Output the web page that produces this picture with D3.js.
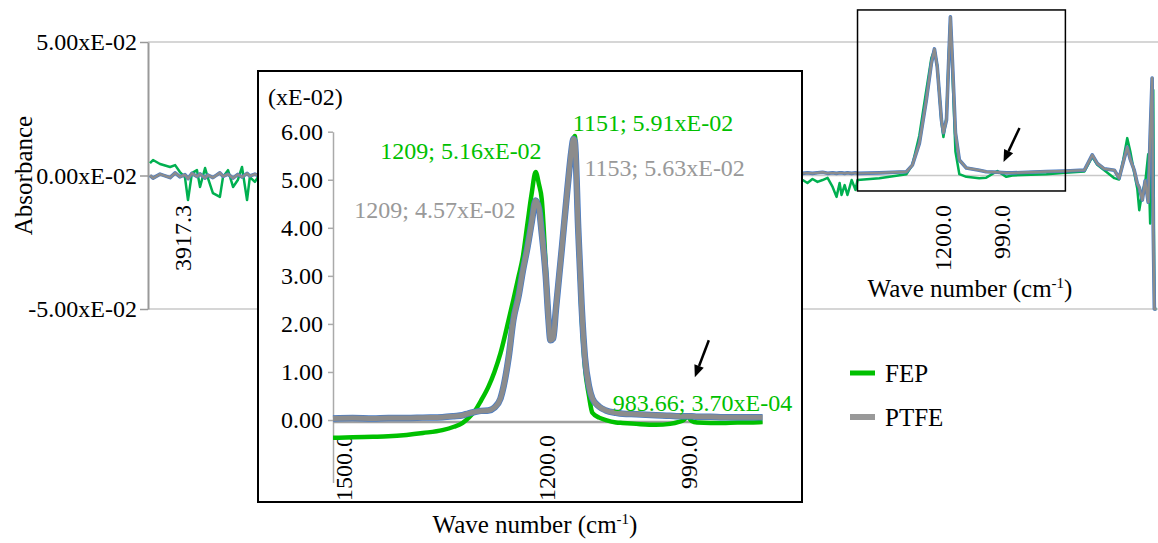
<!DOCTYPE html>
<html>
<head>
<meta charset="utf-8">
<script src="https://cdn.jsdelivr.net/npm/d3@7"></script>
<style>
  body { margin: 0; background: #fff; }
  svg { display: block; font-family: "Liberation Serif", serif; }
</style>
</head>
<body>
<div id="chart"></div>
<script>
// ---- data (absorbance in units of 1E-02) ----

// full spectrum shown behind the inset
const mainWave = [4013, 4002, 3977, 3941, 3923, 3906, 3888, 3877, 3863, 3845, 3834, 3816, 3806, 3788, 3763, 3752,
    3734, 3716, 3699, 3684, 3666, 3656, 3638, 3627,
    2600,
    1680, 1663, 1645, 1627, 1609, 1591, 1573, 1559, 1548, 1541, 1530, 1520, 1505, 1491, 1484,
    1406, 1309, 1288, 1263, 1238, 1220, 1209, 1199, 1184, 1177, 1166, 1159, 1152, 1145, 1134, 1120,
    1095, 1049, 1024, 984, 952, 931, 809, 741,
    673, 645, 627, 602, 566, 549, 534, 520, 509, 495, 484, 477, 466, 456, 445, 438, 431, 427, 423, 416];
const mainFEP = [0.46, 0.58, 0.43, 0.32, 0.39, 0.13, -0.06, -0.92, 0.09, 0.2, -0.43, 0.28, -0.09, -0.66, -0.8, -0.06,
    0.2, -0.43, -0.17, 0.32, -0.92, -0.06, -0.24, -0.06,
    0,
    -0.17, -0.28, -0.13, -0.24, -0.17, -0.09, -0.43, -0.8, -0.28, -0.73, -0.36, -0.73, -0.17, -0.54, -0.17,
    -0.1, 0.05, 0.4, 1.5, 3.2, 4.4, 4.7, 4.1, 2.0, 1.44, 2.2, 4.2, 5.85, 3.9, 0.9, 0.05,
    -0.05, -0.1, -0.08, 0.17, -0.05, 0.0, 0.05, 0.1,
    0.15, 0.7, 0.4, 0.2, -0.1, -0.15, 0.6, 1.4, 0.9, 0.1, -0.5, -1.3, -0.6, -0.3, 0.8, -1.8, 1.0, 3.2, -5.0, -5.0];
const mainPTFE = [0.0, -0.1, 0.05, -0.08, 0.1, -0.05, 0.03, -0.12, 0.08, -0.04, 0.06, -0.1, 0.02, -0.08, 0.1, -0.03,
    0.05, -0.1, 0.04, -0.06, 0.08, -0.02, 0.05, 0.0,
    0.05,
    0.08, 0.1, 0.08, 0.1, 0.12, 0.08, 0.1, 0.08, 0.1, 0.1, 0.08, 0.1, 0.08, 0.1, 0.08,
    0.1, 0.14, 0.39, 1.2, 2.83, 4.2, 4.74, 4.06, 2.08, 1.6, 2.08, 4.06, 5.94, 4.33, 1.6, 0.58,
    0.28, 0.2, 0.14, 0.12, 0.1, 0.1, 0.15, 0.17,
    0.2, 0.77, 0.45, 0.25, 0.2, -0.1, 0.5, 1.06, 0.6, 0.2, -0.3, -0.45, -0.92, -0.2, -1.0, 1.5, 3.65, -2.0, -5.0, -5.0];

// zoomed region 1500 - 870 cm-1
const insetWave = [1509, 1480, 1450, 1427, 1400, 1376, 1347, 1330, 1317, 1308, 1298, 1290, 1279, 1270, 1261, 1249,
    1242, 1234, 1228, 1221, 1215, 1209, 1204, 1200, 1194, 1190, 1187, 1183, 1179, 1170, 1162, 1156,
    1153, 1151, 1146, 1141, 1136, 1130, 1125, 1115, 1105, 1090, 1080, 1060, 1031, 1010, 997, 990,
    984, 978, 970, 950, 932, 910, 890, 873];
const insetFEP = [-0.37, -0.36, -0.35, -0.34, -0.31, -0.27, -0.21, -0.14, -0.06, 0.05, 0.21, 0.4, 0.69, 1.0, 1.39, 2.08,
    2.5, 3.0, 3.39, 4.1, 4.7, 5.16, 4.9, 4.6, 3.2, 2.2, 1.75, 1.75, 2.3, 3.6, 4.8, 5.6,
    5.85, 5.91, 3.9, 2.2, 1.1, 0.5, 0.15, 0.05, 0.0, -0.05, -0.06, -0.08, -0.1, -0.08, -0.04, 0.0,
    0.07, -0.02, -0.05, -0.06, -0.06, -0.05, -0.05, -0.04];
const insetPTFE = [0.03, 0.04, 0.03, 0.04, 0.04, 0.05, 0.06, 0.08, 0.1, 0.14, 0.17, 0.19, 0.2, 0.26, 0.45, 1.3,
    2.08, 2.6, 3.1, 3.6, 4.1, 4.57, 4.4, 3.9, 3.0, 2.1, 1.66, 1.7, 2.3, 3.6, 4.8, 5.6,
    5.85, 5.8, 4.0, 2.4, 1.3, 0.7, 0.45, 0.28, 0.2, 0.15, 0.13, 0.12, 0.1, 0.09, 0.08, 0.08,
    0.08, 0.08, 0.07, 0.07, 0.06, 0.06, 0.06, 0.06];

// axis ticks
const mainYTicks = [5, 0, -5];
const mainYLabels = ["5.00xE-02", "0.00xE-02", "-5.00xE-02"];
const mainXTicks = [3917.3, 1200.0, 990.0];
const insetYTicks = [0, 1, 2, 3, 4, 5, 6];
const insetXTicks = [1500.0, 1200.0, 990.0];

// zoom frame on the full spectrum (wave number, absorbance)
const zoomWave = [1484, 741];
const zoomAbs = [6.2, -0.58];

// peak labels
const noteText = ["1209; 5.16xE-02", "1209; 4.57xE-02", "1151; 5.91xE-02", "1153; 5.63xE-02", "983.66; 3.70xE-04"];
const noteWave = [1209, 1209, 1151, 1153, 983.66];
const noteAbs = [5.16, 4.57, 5.91, 5.63, 0.037];
const noteSeries = ["FEP", "PTFE", "FEP", "PTFE", "FEP"];

const seriesNames = ["FEP", "PTFE"];

// ---- layout ----
const W = 1158, H = 543;
const green = "#00c000", greenMain = "#00b050", gray = "#8c8c8c", blue = "#4a7cc4";
const noteOffset = [[6, -13, "end"], [-20, 18, "end"], [-2, -5, "start"], [11, 27, "start"], [-75, -7, "start"]];

const svg = d3.select("#chart").append("svg")
    .attr("width", W)
    .attr("height", H);

// main chart scales
const x = d3.scaleLinear().domain([4020, 410]).range([148, 1158]);
const y = d3.scaleLinear().domain([-5, 5]).range([309, 42]);

// gridlines
svg.append("g")
    .selectAll("line")
    .data(mainYTicks)
    .join("line")
        .attr("x1", 148)
        .attr("x2", W)
        .attr("y1", d => y(d))
        .attr("y2", d => y(d))
        .attr("stroke", "#c8c8c8")
        .attr("stroke-width", 1.5);

// y axis
const yAxis = svg.append("g")
    .attr("transform", `translate(148, 0)`)
    .call(d3.axisLeft(y)
        .tickValues(mainYTicks)
        .tickSize(8)
        .tickSizeOuter(0)
        .tickPadding(3)
        .tickFormat((d, i) => mainYLabels[i]));
yAxis.select(".domain").attr("stroke", "#999").attr("stroke-width", 2);
yAxis.selectAll(".tick line").attr("stroke", "#999").attr("stroke-width", 1.5);
yAxis.selectAll(".tick text")
    .attr("fill", "#000")
    .attr("font-size", 24)
    .attr("font-family", "Liberation Serif");

svg.append("text")
    .attr("transform", `translate(32, ${y(0)}) rotate(-90)`)
    .attr("text-anchor", "middle")
    .attr("font-size", 25)
    .text("Absorbance");

// x tick labels, rotated
svg.append("g")
    .selectAll("text")
    .data(mainXTicks)
    .join("text")
        .attr("transform", d => `translate(${x(d) + 6}, 205) rotate(-90)`)
        .attr("text-anchor", "end")
        .attr("dy", "0.35em")
        .attr("font-size", 24)
        .text(d => d.toFixed(1));

function axisTitle(cx, by) {
    const t = svg.append("text")
        .attr("x", cx)
        .attr("y", by)
        .attr("text-anchor", "middle")
        .attr("font-size", 25);
    t.append("tspan").text("Wave number (cm");
    t.append("tspan").attr("dy", -9).attr("font-size", 15).text("-1");
    t.append("tspan").attr("dy", 9).text(")");
}
axisTitle(970, 297);

// main spectra
const mainLine = (vals) => d3.line()
    .x((d, i) => x(mainWave[i]))
    .y(d => y(d))(vals);

svg.append("path")
    .attr("d", mainLine(mainFEP))
    .attr("fill", "none")
    .attr("stroke", greenMain)
    .attr("stroke-width", 2.5)
    .attr("stroke-linejoin", "round");
svg.append("path")
    .attr("d", mainLine(mainPTFE))
    .attr("fill", "none")
    .attr("stroke", blue)
    .attr("stroke-width", 3.6)
    .attr("stroke-linejoin", "round");
svg.append("path")
    .attr("d", mainLine(mainPTFE))
    .attr("fill", "none")
    .attr("stroke", gray)
    .attr("stroke-width", 2.4)
    .attr("stroke-linejoin", "round");

// zoom frame
svg.append("rect")
    .attr("x", x(zoomWave[0]))
    .attr("y", y(zoomAbs[0]))
    .attr("width", x(zoomWave[1]) - x(zoomWave[0]))
    .attr("height", y(zoomAbs[1]) - y(zoomAbs[0]))
    .attr("fill", "none")
    .attr("stroke", "#000")
    .attr("stroke-width", 1.5);

// arrows
function arrow(x1, y1, x2, y2) {
    const ang = Math.atan2(y2 - y1, x2 - x1);
    const len = 12, half = 5;
    const bx = x2 - len * Math.cos(ang), by = y2 - len * Math.sin(ang);
    svg.append("line")
        .attr("x1", x1).attr("y1", y1)
        .attr("x2", bx).attr("y2", by)
        .attr("stroke", "#000")
        .attr("stroke-width", 2.5);
    svg.append("path")
        .attr("d", `M${x2},${y2}L${bx - half * Math.sin(ang)},${by + half * Math.cos(ang)}L${bx + half * Math.sin(ang)},${by - half * Math.cos(ang)}Z`)
        .attr("fill", "#000");
}
arrow(x(983.66) + 22, y(0.17) - 43, x(983.66) + 6, y(0.17) - 9);

// ---- inset ----
svg.append("rect")
    .attr("x", 258)
    .attr("y", 71)
    .attr("width", 544)
    .attr("height", 431)
    .attr("fill", "#fff")
    .attr("stroke", "#000")
    .attr("stroke-width", 2);

const ix = d3.scaleLinear().domain([1509, 862]).range([333, 770]);
const iy = d3.scaleLinear().domain([-1.3, 6]).range([482.5, 131.7]);

const iyAxis = svg.append("g")
    .attr("transform", `translate(333, 0)`)
    .call(d3.axisLeft(iy)
        .tickValues(insetYTicks)
        .tickSize(5)
        .tickSizeOuter(0)
        .tickPadding(5)
        .tickFormat(d => d.toFixed(2)));
iyAxis.select(".domain").attr("stroke", "#aaa").attr("stroke-width", 1.5);
iyAxis.selectAll(".tick line").attr("stroke", "#aaa").attr("stroke-width", 1.5);
iyAxis.selectAll(".tick text")
    .attr("fill", "#000")
    .attr("font-size", 24)
    .attr("font-family", "Liberation Serif");

svg.append("line")
    .attr("x1", 333)
    .attr("x2", ix(insetWave[insetWave.length - 1]))
    .attr("y1", iy(0) + 2)
    .attr("y2", iy(0) + 2)
    .attr("stroke", "#a0a0a0")
    .attr("stroke-width", 2.5);

svg.append("text")
    .attr("x", 268)
    .attr("y", 105)
    .attr("font-size", 24)
    .text("(xE-02)");

svg.append("g")
    .selectAll("text")
    .data(insetXTicks)
    .join("text")
        .attr("transform", d => `translate(${ix(d) + 5}, 435) rotate(-90)`)
        .attr("text-anchor", "end")
        .attr("dy", "0.35em")
        .attr("font-size", 24)
        .text(d => d.toFixed(1));

axisTitle(535, 533);

const insetLine = (vals) => d3.line()
    .x((d, i) => ix(insetWave[i]))
    .y(d => iy(d))
    .curve(d3.curveMonotoneX)(vals);

svg.append("path")
    .attr("d", insetLine(insetFEP))
    .attr("fill", "none")
    .attr("stroke", green)
    .attr("stroke-width", 4.5)
    .attr("stroke-linejoin", "round");
svg.append("path")
    .attr("d", insetLine(insetPTFE))
    .attr("fill", "none")
    .attr("stroke", blue)
    .attr("stroke-width", 6.5)
    .attr("stroke-linejoin", "round");
svg.append("path")
    .attr("d", insetLine(insetPTFE))
    .attr("fill", "none")
    .attr("stroke", gray)
    .attr("stroke-width", 5)
    .attr("stroke-linejoin", "round");

// peak labels
svg.append("g")
    .selectAll("text")
    .data(noteText)
    .join("text")
        .attr("x", (d, i) => ix(noteWave[i]) + noteOffset[i][0])
        .attr("y", (d, i) => iy(noteAbs[i]) + noteOffset[i][1])
        .attr("text-anchor", (d, i) => noteOffset[i][2])
        .attr("font-size", 24)
        .attr("fill", (d, i) => noteSeries[i] == "FEP" ? green : "#999")
        .text(d => d);

arrow(ix(983.66) + 21, iy(0.037) - 78, ix(983.66) + 7, iy(0.037) - 41);

// legend
const legend = svg.append("g")
    .selectAll("g")
    .data(seriesNames)
    .join("g")
        .attr("transform", (d, i) => `translate(850, ${373 + i * 44})`);
legend.append("line")
    .attr("x1", 0)
    .attr("x2", 25)
    .attr("stroke", (d, i) => i == 0 ? green : "#999")
    .attr("stroke-width", (d, i) => i == 0 ? 5 : 6);
legend.append("text")
    .attr("x", 35)
    .attr("dy", "0.35em")
    .attr("font-size", 25)
    .text(d => d);
</script>
</body>
</html>
